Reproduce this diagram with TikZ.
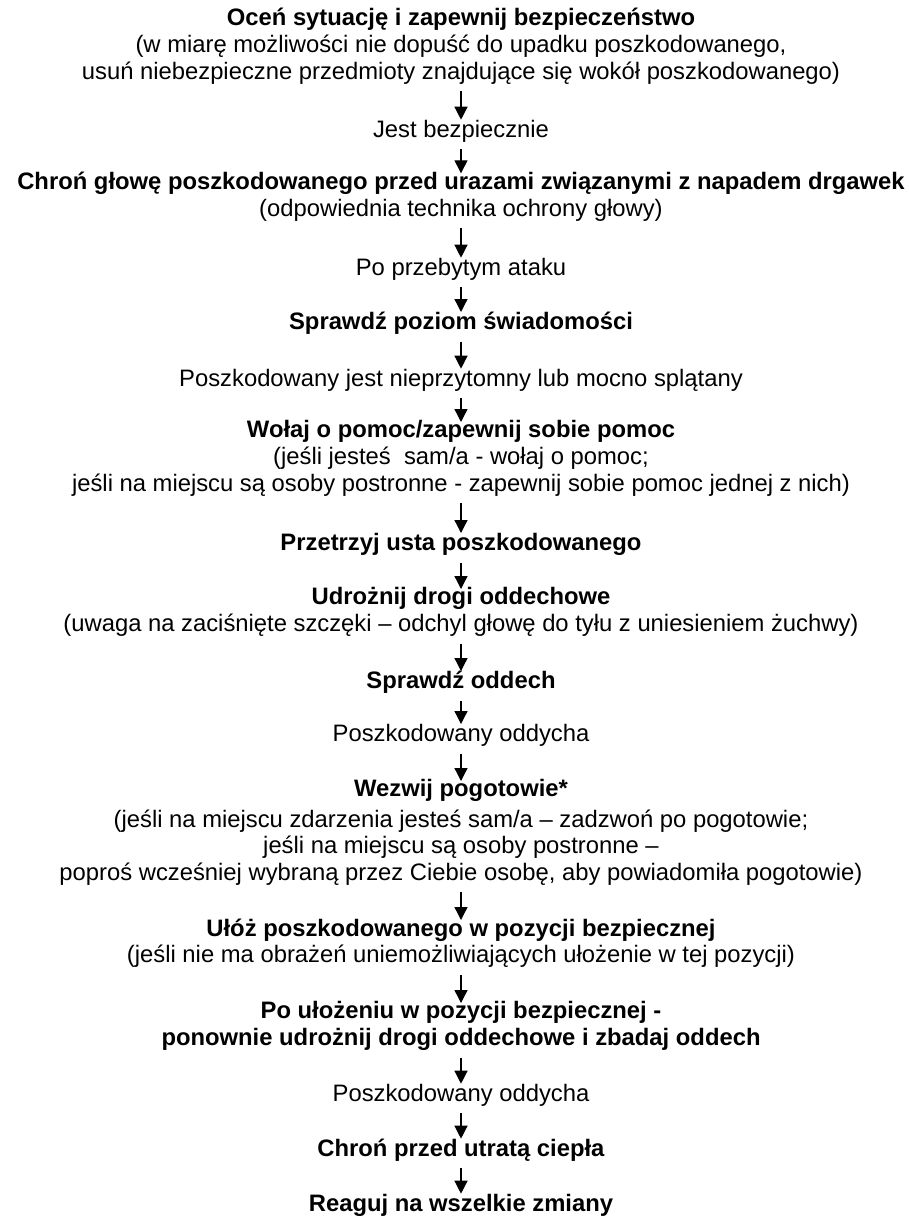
\documentclass[tikz,border=0pt]{standalone}
\usepackage{fontspec}
\setmainfont{Liberation Sans}
\usetikzlibrary{positioning, arrows.meta}

\begin{document}
\begin{tikzpicture}[
  x=1pt, y=-1pt,
  every node/.style={anchor=north, align=center, inner sep=0pt,
    font=\fontsize{23.8pt}{26.6pt}\selectfont,
    execute at begin node=\strut, execute at end node=\strut},
  flow/.style={-{Triangle[length=13pt, width=13pt]}, line width=1.3pt,
    shorten <=4pt, shorten >=-1.5pt}
]
  \useasboundingbox (0,0) rectangle (909,1216);

  \node (assess) at (461,8.2) {\textbf{Oceń sytuację i zapewnij bezpieczeństwo}\\
    (w miarę możliwości nie dopuść do upadku poszkodowanego,\\
    usuń niebezpieczne przedmioty znajdujące się wokół poszkodowanego)};
  \node (safe) at (461,118.2) {Jest bezpiecznie};
  \node (protect) at (461,171.8) {\textbf{Chroń głowę poszkodowanego przed urazami związanymi z napadem drgawek}\\
    (odpowiednia technika ochrony głowy)};
  \node (after) at (461,256.2) {Po przebytym ataku};
  \node (conscious) at (461,310.5) {\textbf{Sprawdź poziom świadomości}};
  \node (unconsc) at (461,367.2) {Poszkodowany jest nieprzytomny lub mocno splątany};
  \node (help) at (461,420.5) {\textbf{Wołaj o pomoc/zapewnij sobie pomoc}\\
    (jeśli jesteś~ sam/a - wołaj o pomoc;\\
    jeśli na miejscu są osoby postronne - zapewnij sobie pomoc jednej z nich)};
  \node (mouth) at (461,531.5) {\textbf{Przetrzyj usta poszkodowanego}};
  \node (airway) at (461,587.5) {\textbf{Udrożnij drogi oddechowe}\\
    (uwaga na zaciśnięte szczęki – odchyl głowę do tyłu z uniesieniem żuchwy)};
  \node (breath) at (461,669.5) {\textbf{Sprawdź oddech}};
  \node (breathes) at (461,722.5) {Poszkodowany oddycha};
  \node (ambulance) at (461,779.5) {\textbf{Wezwij pogotowie*}\\[3.5pt]
    (jeśli na miejscu zdarzenia jesteś sam/a – zadzwoń po pogotowie;\\
    jeśli na miejscu są osoby postronne –\\
    poproś wcześniej wybraną przez Ciebie osobę, aby powiadomiła pogotowie)};
  \node (recovery) at (461,918.5) {\textbf{Ułóż poszkodowanego w pozycji bezpiecznej}\\
    (jeśli nie ma obrażeń uniemożliwiających ułożenie w tej pozycji)};
  \node (recheck) at (461,1001.5) {\textbf{Po ułożeniu w pozycji bezpiecznej -}\\
    \textbf{ponownie udrożnij drogi oddechowe i zbadaj oddech}};
  \node (breathes2) at (461,1082.2) {Poszkodowany oddycha};
  \node (warm) at (461,1137.2) {\textbf{Chroń przed utratą ciepła}};
  \node (react) at (461,1192.2) {\textbf{Reaguj na wszelkie zmiany}};

  \draw[flow] (assess) -- (safe);
  \draw[flow] (safe) -- (protect);
  \draw[flow] (protect) -- (after);
  \draw[flow] (after) -- (conscious);
  \draw[flow] (conscious) -- (unconsc);
  \draw[flow] (unconsc) -- (help);
  \draw[flow] (help) -- (mouth);
  \draw[flow] (mouth) -- (airway);
  \draw[flow] (airway) -- (breath);
  \draw[flow] (breath) -- (breathes);
  \draw[flow] (breathes) -- (ambulance);
  \draw[flow] (ambulance) -- (recovery);
  \draw[flow] (recovery) -- (recheck);
  \draw[flow] (recheck) -- (breathes2);
  \draw[flow] (breathes2) -- (warm);
  \draw[flow] (warm) -- (react);
\end{tikzpicture}
\end{document}
